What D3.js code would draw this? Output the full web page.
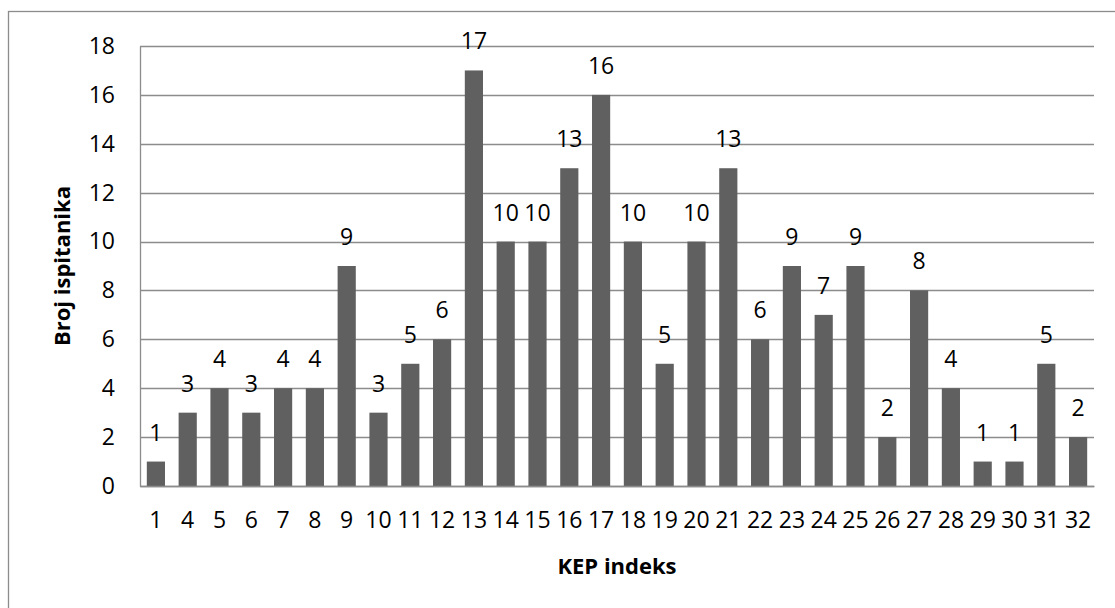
<!DOCTYPE html>
<html>
<head>
<meta charset="utf-8">
<script src="https://cdn.jsdelivr.net/npm/d3@7"></script>
<style>
  html, body { margin: 0; padding: 0; background: #fff; }
  svg { display: block; font-family: "Open Sans", sans-serif; }
</style>
</head>
<body>
<svg id="chart" width="1115" height="608"></svg>
<script>
const categories = ["1","4","5","6","7","8","9","10","11","12","13","14","15","16","17","18","19","20","21","22","23","24","25","26","27","28","29","30","31","32"];
const values = [1,3,4,3,4,4,9,3,5,6,17,10,10,13,16,10,5,10,13,6,9,7,9,2,8,4,1,1,5,2];
const yTicks = [0,2,4,6,8,10,12,14,16,18];
const yTitle = "Broj ispitanika";
const xTitle = "KEP indeks";

const svg = d3.select("#chart");
const m = { left: 140, top: 46, right: 1094, bottom: 486 };
const fs = 23;

// outer frame
svg.append("rect")
  .attr("x", 8.5).attr("y", 11.5)
  .attr("width", 1120).attr("height", 620)
  .attr("fill", "none").attr("stroke", "#8c8c8c").attr("stroke-width", 1.3);

const x = d3.scaleBand().domain(categories).range([m.left, m.right]).paddingInner(0.75/1.75).paddingOuter(0.75/1.75/2);
const y = d3.scaleLinear().domain([0, 18]).range([m.bottom, m.top]);

// gridlines
svg.append("g").selectAll("line").data(yTicks).join("line")
  .attr("x1", m.left).attr("x2", m.right)
  .attr("y1", d => Math.round(y(d)) + 0.5).attr("y2", d => Math.round(y(d)) + 0.5)
  .attr("stroke", "#8c8c8c").attr("stroke-width", 1.3);

// y axis
const yAxis = svg.append("g").attr("transform", `translate(${m.left},0)`)
  .call(d3.axisLeft(y).tickValues(yTicks).tickSize(0).tickPadding(25));
yAxis.select(".domain").attr("stroke", "#8c8c8c").attr("stroke-width", 1.3);
yAxis.selectAll("text").attr("font-size", fs).attr("fill", "#000").attr("font-family", "Open Sans");

// bars
svg.append("g").selectAll("rect").data(values).join("rect")
  .attr("x", (d, i) => x(categories[i]))
  .attr("width", x.bandwidth())
  .attr("y", d => y(d))
  .attr("height", d => y(0) - y(d))
  .attr("fill", "#606060");

// x axis
const xAxis = svg.append("g").attr("transform", `translate(0,${m.bottom})`)
  .call(d3.axisBottom(x).tickSize(0).tickPadding(26));
xAxis.select(".domain").attr("stroke", "#8c8c8c").attr("stroke-width", 1.3);
xAxis.selectAll("text").attr("font-size", fs).attr("fill", "#000").attr("font-family", "Open Sans");

// data labels
svg.append("g").selectAll("text").data(values).join("text")
  .attr("x", (d, i) => x(categories[i]) + x.bandwidth() / 2)
  .attr("y", d => y(d) - 21)
  .attr("text-anchor", "middle")
  .attr("font-size", fs)
  .attr("fill", "#000")
  .text(d => d);

// axis titles
svg.append("text")
  .attr("transform", `translate(70,${(m.top + m.bottom) / 2}) rotate(-90)`)
  .attr("text-anchor", "middle")
  .attr("font-size", 22).attr("font-weight", "bold")
  .text(yTitle);

svg.append("text")
  .attr("x", (m.left + m.right) / 2).attr("y", 574)
  .attr("text-anchor", "middle")
  .attr("font-size", 22).attr("font-weight", "bold")
  .text(xTitle);
</script>
</body>
</html>
